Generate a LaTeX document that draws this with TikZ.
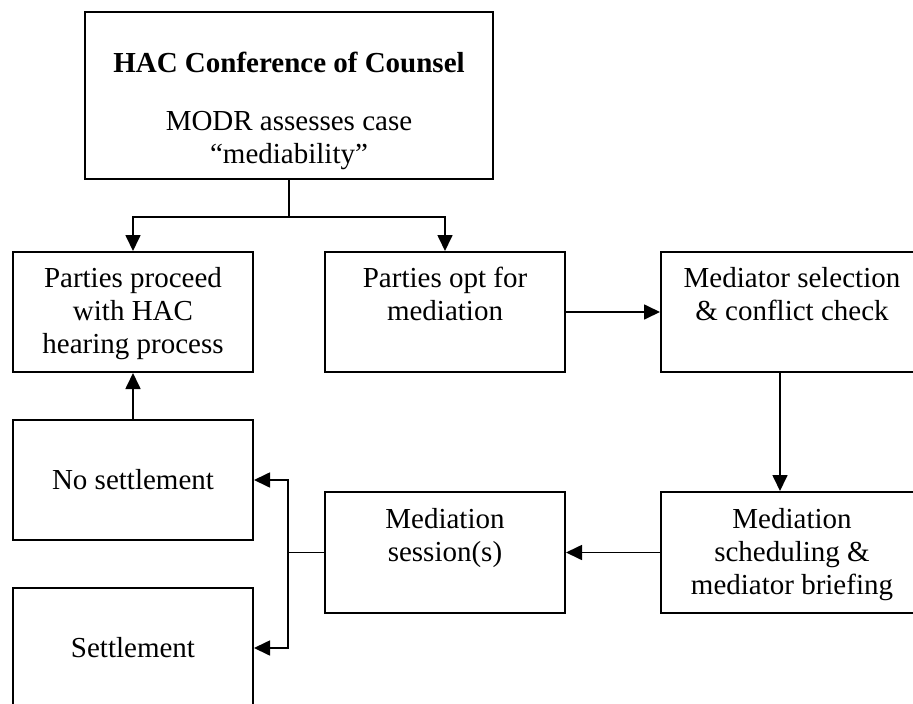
\documentclass[tikz,border=0pt]{standalone}
\usepackage{fontspec}
\setmainfont{Liberation Serif}
\usetikzlibrary{arrows.meta}
\begin{document}
\begin{tikzpicture}[x=1pt,y=-1pt,
  box/.style={draw, line width=2pt, minimum width=240pt, minimum height=120pt,
    inner sep=0pt, anchor=north west, font=\fontsize{29}{33}\selectfont},
  txt/.style={font=\fontsize{29}{33}\selectfont, align=center, inner sep=0pt, anchor=north},
  conn/.style={line width=1.7pt, -{Triangle[length=16pt,width=15pt]}},
  plain/.style={line width=1.7pt}]
\useasboundingbox (0,0) rectangle (913,704);
\clip (0,0) rectangle (913,704);
% boxes
\node[box, minimum width=408pt, minimum height=167pt] (top) at (84,11) {};
\node[box] (proceed) at (12,251) {};
\node[box] (opt) at (324,251) {};
\node[box, minimum width=280pt] (sel) at (660,251) {};
\node[box] (nos) at (12,419) {No settlement};
\node[box] (settle) at (12,587) {Settlement};
\node[box, minimum height=121pt] (sess) at (324,491) {};
\node[box, minimum width=280pt, minimum height=121pt] (sched) at (660,491) {};
% texts
\node[txt] (top-t) at ([yshift=-41pt]top.north)
  {\textbf{HAC Conference of Counsel}\\[25pt]MODR assesses case\\“mediability”};
\node[txt] (proceed-t) at ([yshift=-16pt]proceed.north)
  {Parties proceed\\with HAC\\hearing process};
\node[txt] (opt-t) at ([yshift=-16pt]opt.north) {Parties opt for\\mediation};
\node[txt] (sel-t) at ([xshift=132pt,yshift=-16pt]sel.north west)
  {Mediator selection\\\& conflict check};
\node[txt] (sess-t) at ([yshift=-17pt]sess.north) {Mediation\\session(s)};
\node[txt] (sched-t) at ([xshift=132pt,yshift=-17pt]sched.north west)
  {Mediation\\scheduling \&\\mediator briefing};
% connectors
\draw[plain] (top.south) -- ++(0,37) coordinate (split);
\draw[conn] (split) -| (proceed.north);
\draw[conn] (split) -| (opt.north);
\draw[conn] (opt.east) -- (sel.west);
\draw[conn] ([xshift=120pt]sel.south west) -- ([xshift=120pt]sched.north west);
\draw[conn] (sched.west) -- (sess.east);
\draw[plain] (sess.west) -- ++(-36,0) coordinate (join);
\draw[conn] (join) |- (nos.east);
\draw[conn] (join) |- (settle.east);
\draw[conn] (nos.north) -- (proceed.south);
\end{tikzpicture}
\end{document}
